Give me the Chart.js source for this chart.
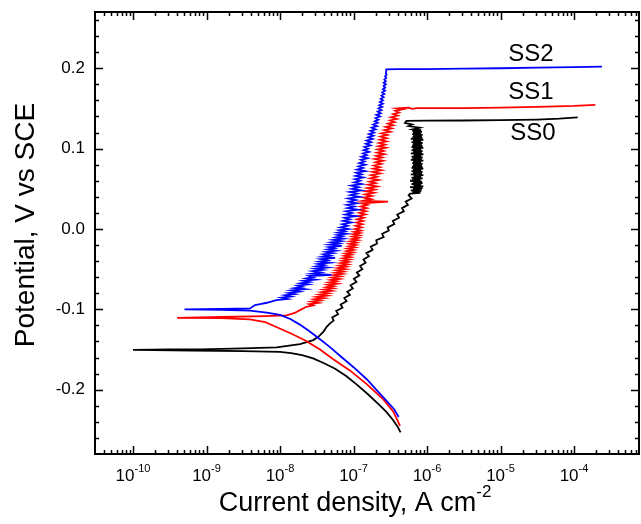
<!DOCTYPE html>
<html><head><meta charset="utf-8">
<script src="https://cdn.jsdelivr.net/npm/chart.js@4/dist/chart.umd.min.js"></script>
<style>html,body{margin:0;padding:0;background:#fff;}canvas{display:block;}</style>
</head><body>
<canvas id="c" width="641" height="524"></canvas>
<script>
// ---- data: each pair = [log10(current density / A cm^-2), potential / V vs SCE] ----
const seriesNames = ['SS0', 'SS1', 'SS2'];

const ss0Data = [
 [-6.36,-0.253],[-6.40,-0.246],[-6.46,-0.238],[-6.55,-0.228],[-6.66,-0.218],[-6.80,-0.206],[-6.95,-0.194],[-7.10,-0.183],[-7.25,-0.174],[-7.40,-0.167],[-7.55,-0.161],[-7.70,-0.157],[-7.85,-0.1545],[-8.00,-0.153],[-8.50,-0.152],[-9.20,-0.1512],[-10.00,-0.1505],
 [-9.50,-0.1497],[-9.088,-0.1499],[-8.50,-0.1485],[-8.045,-0.1474],[-7.728,-0.1433],[-7.547,-0.1383],[-7.479,-0.1342],[-7.411,-0.1280],[-7.365,-0.1217],[-7.320,-0.1175],
 [-7.27,-0.114],[-7.29,-0.110],[-7.21,-0.106],[-7.235,-0.102],[-7.15,-0.098],[-7.175,-0.094],[-7.095,-0.090],[-7.125,-0.086],[-7.05,-0.082],[-7.085,-0.078],[-7.01,-0.074],[-7.04,-0.070],[-6.96,-0.066],[-6.995,-0.062],[-6.92,-0.058],[-6.955,-0.054],[-6.88,-0.050],[-6.91,-0.046],[-6.835,-0.042],[-6.865,-0.038],[-6.79,-0.034],[-6.825,-0.030],[-6.74,-0.026],[-6.765,-0.022],[-6.68,-0.018],[-6.69,-0.014],[-6.59,-0.010],[-6.61,-0.006],[-6.52,-0.002],[-6.535,0.002],[-6.445,0.006],[-6.465,0.010],[-6.38,0.014],[-6.405,0.018],[-6.315,0.022],[-6.34,0.026],[-6.26,0.030],[-6.29,0.034],[-6.21,0.038],[-6.25,0.042],
 [-6.23,0.044],[-6.09,0.045],[-6.20,0.046],[-6.08,0.047],[-6.22,0.048],[-6.07,0.049],[-6.19,0.050],[-6.06,0.051],[-6.23,0.052],[-6.05,0.053],[-6.18,0.054],[-6.08,0.055],[-6.21,0.056],[-6.06,0.057],[-6.19,0.058],[-6.07,0.059],[-6.23,0.060],[-6.09,0.061],[-6.20,0.062],[-6.06,0.063],[-6.21,0.064],[-6.08,0.065],[-6.18,0.066],[-6.05,0.067],[-6.22,0.068],[-6.07,0.069],[-6.19,0.070],[-6.06,0.071],[-6.21,0.072],[-6.08,0.073],[-6.19,0.074],[-6.05,0.075],[-6.21,0.076],[-6.06,0.077],[-6.20,0.078],[-6.07,0.079],[-6.19,0.080],[-6.06,0.081],[-6.20,0.082],[-6.08,0.083],[-6.19,0.084],[-6.05,0.085],[-6.22,0.086],[-6.07,0.087],[-6.20,0.088],[-6.06,0.089],[-6.21,0.090],[-6.08,0.091],[-6.18,0.092],[-6.05,0.093],[-6.22,0.094],[-6.07,0.095],[-6.19,0.096],[-6.06,0.097],[-6.21,0.098],[-6.08,0.099],[-6.19,0.100],[-6.05,0.101],[-6.21,0.102],[-6.06,0.103],[-6.20,0.104],[-6.07,0.105],[-6.19,0.106],[-6.06,0.107],[-6.21,0.108],[-6.08,0.109],[-6.19,0.110],[-6.05,0.111],[-6.22,0.112],[-6.06,0.113],[-6.20,0.114],[-6.07,0.115],[-6.19,0.116],[-6.06,0.117],[-6.20,0.118],[-6.08,0.119],[-6.19,0.120],[-6.07,0.121],[-6.20,0.122],[-6.08,0.123],[-6.19,0.124],[-6.10,0.126],[-6.25,0.128],[-6.20,0.130],[-6.30,0.132],[-6.28,0.1346],
 [-6.00,0.1348],[-5.50,0.1350],[-5.00,0.1355],[-4.50,0.1362],[-4.20,0.1372],[-3.95,0.1390]
];

const ss1Data = [
 [-6.367,-0.245],[-6.46,-0.227],[-6.595,-0.212],[-6.82,-0.193],[-7.05,-0.176],[-7.275,-0.162],[-7.456,-0.150],[-7.65,-0.139],[-7.85,-0.130],[-8.05,-0.122],[-8.20,-0.116],[-8.41,-0.1125],[-8.80,-0.1110],[-9.40,-0.1105],
 [-8.80,-0.1095],[-8.20,-0.1085],[-7.91,-0.1075],[-7.80,-0.1045],[-7.73,-0.1010],
 [-7.64,-0.0968],[-7.55,-0.0950],[-7.60,-0.0935],[-7.48,-0.0920],[-7.57,-0.0905],[-7.45,-0.0890],[-7.53,-0.0875],[-7.40,-0.0860],[-7.50,-0.0845],[-7.36,-0.0830],[-7.46,-0.0815],[-7.34,-0.0800],[-7.43,-0.0785],[-7.30,-0.0770],[-7.40,-0.0755],[-7.28,-0.0740],[-7.37,-0.0725],[-7.27,-0.0710],[-7.35,-0.0695],[-7.22,-0.0680],[-7.33,-0.0665],[-7.23,-0.0650],[-7.31,-0.0635],[-7.19,-0.0620],[-7.29,-0.0605],[-7.18,-0.0590],[-7.27,-0.0575],[-7.15,-0.0560],[-7.25,-0.0545],[-7.14,-0.0530],[-7.23,-0.0515],[-7.11,-0.0500],[-7.21,-0.0485],[-7.10,-0.0470],[-7.19,-0.0455],[-7.08,-0.0440],[-7.17,-0.0425],[-7.07,-0.0410],[-7.15,-0.0395],[-7.05,-0.0380],[-7.14,-0.0365],[-7.04,-0.0350],[-7.12,-0.0335],[-7.03,-0.0320],[-7.11,-0.0305],[-7.01,-0.0290],[-7.09,-0.0275],[-7.00,-0.0260],[-7.08,-0.0245],[-6.98,-0.0230],[-7.06,-0.0215],[-6.97,-0.0200],[-7.05,-0.0185],[-6.96,-0.0170],[-7.04,-0.0155],[-6.94,-0.0140],[-7.02,-0.0125],[-6.93,-0.0110],[-7.01,-0.0095],[-6.92,-0.0080],[-7.00,-0.0065],[-6.91,-0.0050],[-6.99,-0.0035],[-6.90,-0.0020],[-6.98,0.0000],
 [-6.89,0.0020],[-6.97,0.0040],[-6.88,0.0060],[-6.96,0.0080],[-6.87,0.0100],[-6.95,0.0120],[-6.86,0.0140],[-6.94,0.0160],[-6.84,0.0180],[-6.92,0.0200],[-6.83,0.0220],[-6.91,0.0240],[-6.82,0.0260],[-6.90,0.0280],[-6.81,0.0300],[-6.89,0.0320],[-6.53,0.0340],[-6.87,0.0350],[-6.76,0.0370],[-6.86,0.0390],[-6.75,0.0410],[-6.84,0.0430],[-6.72,0.0450],[-6.83,0.0470],[-6.71,0.0490],[-6.81,0.0510],[-6.68,0.0530],[-6.80,0.0550],[-6.70,0.0570],[-6.78,0.0590],[-6.66,0.0610],[-6.77,0.0630],[-6.68,0.0650],[-6.76,0.0670],[-6.64,0.0690],[-6.74,0.0710],[-6.62,0.0730],[-6.73,0.0750],[-6.64,0.0770],[-6.72,0.0790],[-6.62,0.0810],[-6.70,0.0830],[-6.60,0.0850],[-6.71,0.0870],[-6.61,0.0890],[-6.69,0.0910],[-6.58,0.0930],[-6.68,0.0950],[-6.59,0.0970],[-6.67,0.0990],[-6.56,0.1010],[-6.66,0.1030],[-6.57,0.1050],[-6.65,0.1070],[-6.55,0.1090],[-6.64,0.1110],[-6.55,0.1130],[-6.63,0.1150],[-6.54,0.1170],[-6.62,0.1190],[-6.50,0.1210],[-6.58,0.1230],[-6.48,0.1250],[-6.56,0.1270],[-6.46,0.1290],[-6.53,0.1310],[-6.44,0.1330],[-6.50,0.1350],[-6.41,0.1370],[-6.49,0.1390],[-6.40,0.1410],[-6.46,0.1430],[-6.38,0.1450],[-6.43,0.1470],[-6.33,0.1490],[-6.40,0.1500],[-6.25,0.1510],[-6.20,0.1495],[-6.14,0.1505],
 [-5.50,0.1505],[-5.00,0.1510],[-4.50,0.1520],[-4.00,0.1532],[-3.71,0.1545]
];

const ss2Data = [
 [-6.385,-0.234],[-6.45,-0.224],[-6.55,-0.214],[-6.66,-0.203],[-6.82,-0.187],[-7.00,-0.172],[-7.18,-0.158],[-7.32,-0.147],[-7.46,-0.137],[-7.59,-0.128],[-7.73,-0.119],[-7.86,-0.112],[-8.00,-0.107],[-8.18,-0.104],[-8.41,-0.1015],[-8.80,-0.1005],[-9.30,-0.1000],
 [-8.80,-0.0995],[-8.408,-0.0988],[-8.34,-0.0947],[-8.27,-0.0935],[-8.18,-0.0918],
 [-8.05,-0.0885],[-7.90,-0.0870],[-7.98,-0.0855],[-7.85,-0.0840],[-7.93,-0.0825],[-7.80,-0.0810],[-7.88,-0.0795],[-7.74,-0.0780],[-7.84,-0.0765],[-7.66,-0.0750],[-7.80,-0.0735],[-7.70,-0.0720],[-7.76,-0.0705],[-7.62,-0.0690],[-7.72,-0.0675],[-7.60,-0.0660],[-7.68,-0.0645],[-7.52,-0.0630],[-7.64,-0.0615],[-7.55,-0.0600],[-7.60,-0.0585],[-7.30,-0.0570],[-7.56,-0.0555],[-7.45,-0.0540],[-7.55,-0.0525],[-7.42,-0.0510],[-7.52,-0.0495],[-7.36,-0.0480],[-7.50,-0.0465],[-7.40,-0.0450],[-7.48,-0.0435],[-7.32,-0.0420],[-7.46,-0.0405],[-7.36,-0.0390],[-7.44,-0.0375],[-7.25,-0.0360],[-7.42,-0.0345],[-7.32,-0.0330],[-7.40,-0.0315],[-7.28,-0.0300],[-7.37,-0.0285],[-7.24,-0.0270],[-7.35,-0.0255],[-7.26,-0.0240],[-7.33,-0.0225],[-7.16,-0.0210],[-7.32,-0.0195],[-7.20,-0.0180],[-7.30,-0.0165],[-7.17,-0.0150],[-7.27,-0.0135],[-7.14,-0.0120],[-7.24,-0.0105],[-7.15,-0.0090],[-7.22,-0.0075],[-7.10,-0.0060],[-7.21,-0.0045],[-7.12,-0.0030],[-7.19,-0.0015],[-7.07,0.0000],
 [-7.18,0.002],[-7.08,0.004],[-7.15,0.006],[-7.03,0.008],[-7.14,0.010],[-7.05,0.012],[-7.12,0.014],[-6.97,0.016],[-7.11,0.018],[-7.02,0.020],[-7.10,0.022],[-6.95,0.024],[-7.08,0.026],[-6.99,0.028],[-7.09,0.030],[-6.96,0.032],[-7.06,0.034],[-6.97,0.036],[-7.07,0.038],[-6.92,0.040],[-7.04,0.042],[-6.95,0.044],[-7.05,0.046],[-6.90,0.048],[-7.02,0.050],[-6.93,0.052],[-7.03,0.054],[-6.89,0.056],[-6.99,0.058],[-6.91,0.060],[-6.98,0.062],[-6.87,0.064],[-6.97,0.066],[-6.89,0.068],[-6.96,0.070],[-6.84,0.072],[-6.95,0.074],[-6.87,0.076],[-6.93,0.078],[-6.84,0.080],[-6.92,0.082],[-6.85,0.084],[-6.90,0.086],[-6.81,0.088],[-6.89,0.090],[-6.82,0.092],[-6.87,0.094],[-6.79,0.096],[-6.86,0.098],[-6.80,0.100],[-6.85,0.102],[-6.77,0.104],[-6.83,0.106],[-6.76,0.108],[-6.82,0.110],[-6.74,0.112],[-6.80,0.114],[-6.73,0.116],[-6.79,0.118],[-6.72,0.120],[-6.77,0.122],[-6.70,0.124],[-6.75,0.126],[-6.68,0.128],[-6.73,0.130],[-6.67,0.132],[-6.71,0.134],[-6.66,0.136],[-6.70,0.138],[-6.64,0.140],[-6.69,0.142],[-6.63,0.144],[-6.67,0.146],[-6.62,0.148],[-6.66,0.150],[-6.61,0.152],[-6.65,0.154],[-6.60,0.156],[-6.64,0.158],[-6.60,0.160],[-6.63,0.162],[-6.59,0.164],[-6.62,0.166],[-6.58,0.168],[-6.61,0.170],[-6.57,0.172],[-6.60,0.174],[-6.57,0.176],[-6.59,0.178],[-6.56,0.180],[-6.59,0.182],[-6.56,0.184],[-6.58,0.186],[-6.555,0.188],[-6.57,0.190],[-6.55,0.192],[-6.56,0.194],[-6.555,0.196],[-6.555,0.1985],
 [-6.40,0.1988],[-6.00,0.1990],[-5.50,0.1995],[-5.00,0.2000],[-4.50,0.2007],[-4.00,0.2013],[-3.62,0.2020]
];

const seriesColors = ['#000000', '#ff0000', '#0000ff'];
const xTickExponents = [-10, -9, -8, -7, -6, -5, -4];
const yTickValues = [-0.2, -0.1, 0.0, 0.1, 0.2];
const xRange = [3.04e-11, 7.66e-4];
const yRange = [-0.28, 0.27];
const xAxisTitle = 'Current density, A cm';
const xAxisTitleSup = '-2';
const yAxisTitle = 'Potential, V vs SCE';
// series label anchors (log10 current, potential)
const labelLogX = [-4.56, -4.585, -4.585];
const labelY = [0.1184, 0.1695, 0.2168];

// ---- build ----
const allData = [ss0Data, ss1Data, ss2Data];
const datasets = seriesNames.map((n, i) => ({
  label: n,
  data: allData[i].map(p => ({ x: Math.pow(10, p[0]), y: p[1] })),
  borderColor: seriesColors[i], backgroundColor: seriesColors[i],
  borderWidth: 1.8, pointRadius: 0, showLine: true, tension: 0, fill: false
})).reverse();

const FONT = '"Liberation Sans", Arial, Helvetica, sans-serif';

const framePlugin = {
  id: 'framePlugin',
  afterDraw(chart) {
    const ctx = chart.ctx, a = chart.chartArea;
    const xs = chart.scales.x, ys = chart.scales.y;
    ctx.save();
    ctx.strokeStyle = '#000'; ctx.fillStyle = '#000';
    ctx.lineWidth = 2;
    ctx.strokeRect(a.left, a.top, a.right - a.left, a.bottom - a.top);
    ctx.lineWidth = 1.5;
    for (let e = -12; e <= -3; e++) {
      for (let m = 1; m <= 9; m++) {
        const v = m * Math.pow(10, e);
        if (v <= xRange[0] || v >= xRange[1]) continue;
        const px = Math.round(xs.getPixelForValue(v)) + 0.5;
        const len = m === 1 ? 8 : 4;
        ctx.beginPath();
        ctx.moveTo(px, a.bottom); ctx.lineTo(px, a.bottom - len);
        ctx.moveTo(px, a.top); ctx.lineTo(px, a.top + len);
        ctx.stroke();
      }
    }
    for (let k = -14; k <= 13; k++) {
      const v = k * 0.02;
      if (v <= yRange[0] || v >= yRange[1]) continue;
      const py = Math.round(ys.getPixelForValue(v)) + 0.5;
      const len = (k % 5 === 0) ? 8 : 4;
      ctx.beginPath();
      ctx.moveTo(a.left, py); ctx.lineTo(a.left + len, py);
      ctx.moveTo(a.right, py); ctx.lineTo(a.right - len, py);
      ctx.stroke();
    }
    ctx.font = '17px ' + FONT;
    ctx.textAlign = 'right'; ctx.textBaseline = 'middle';
    yTickValues.forEach(v => {
      ctx.fillText(v.toFixed(1), a.left - 10, ys.getPixelForValue(v));
    });
    ctx.textBaseline = 'alphabetic'; ctx.textAlign = 'left';
    xTickExponents.forEach(e => {
      const px = xs.getPixelForValue(Math.pow(10, e));
      ctx.font = '17px ' + FONT;
      const wb = ctx.measureText('10').width;
      ctx.font = '11px ' + FONT;
      const es = String(e);
      const we = ctx.measureText(es).width;
      const x0 = px - (wb + we) / 2;
      ctx.font = '17px ' + FONT;
      ctx.fillText('10', x0, 481);
      ctx.font = '11px ' + FONT;
      ctx.fillText(es, x0 + wb, 472);
    });
    ctx.font = '27px ' + FONT;
    const wt = ctx.measureText(xAxisTitle).width;
    ctx.font = '17px ' + FONT;
    const ws = ctx.measureText(xAxisTitleSup).width;
    const tx = 355 - (wt + ws) / 2;
    ctx.font = '27px ' + FONT;
    ctx.fillText(xAxisTitle, tx, 511);
    ctx.font = '17px ' + FONT;
    ctx.fillText(xAxisTitleSup, tx + wt, 497);
    ctx.save();
    ctx.translate(26, 225);
    ctx.rotate(-Math.PI / 2);
    ctx.font = '28px ' + FONT;
    ctx.textAlign = 'center'; ctx.textBaseline = 'middle';
    ctx.fillText(yAxisTitle, 0, 0);
    ctx.restore();
    ctx.font = '24px ' + FONT;
    ctx.textAlign = 'center'; ctx.textBaseline = 'middle';
    seriesNames.forEach((n, i) => {
      ctx.fillText(n, xs.getPixelForValue(Math.pow(10, labelLogX[i])), ys.getPixelForValue(labelY[i]));
    });
    ctx.restore();
  }
};

new Chart(document.getElementById('c'), {
  type: 'scatter',
  data: { datasets },
  options: {
    responsive: false, animation: false, devicePixelRatio: 1,
    layout: { padding: { top: 12, right: 2, left: 0, bottom: 0 } },
    plugins: { legend: { display: false }, tooltip: { enabled: false } },
    scales: {
      x: {
        type: 'logarithmic', min: xRange[0], max: xRange[1], position: 'bottom',
        grid: { display: false }, border: { display: false }, ticks: { display: false },
        afterFit(s) { s.height = 70; }
      },
      y: {
        type: 'linear', min: yRange[0], max: yRange[1], position: 'left',
        grid: { display: false }, border: { display: false }, ticks: { display: false },
        afterFit(s) { s.width = 95; }
      }
    }
  },
  plugins: [framePlugin]
});
</script>
</body></html>
